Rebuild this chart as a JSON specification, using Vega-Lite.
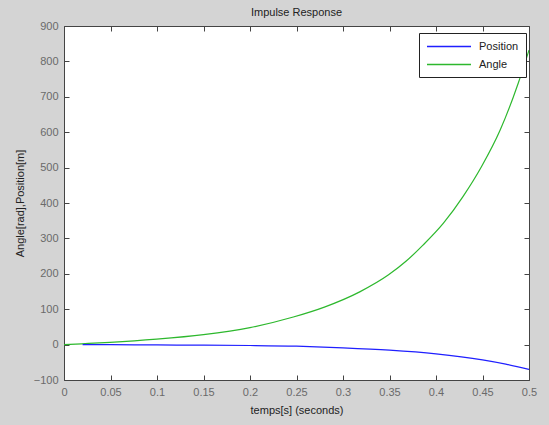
{
  "$schema": "https://vega.github.io/schema/vega-lite/v6.json",
  "width": 465,
  "height": 354,
  "autosize": "none",
  "padding": {"left": 64, "top": 26, "right": 20, "bottom": 45},
  "background": "#d4d4d4",
  "view": {"fill": "white", "stroke": "#444444", "strokeWidth": 1},
  "config": {"font": "Liberation Sans"},
  "title": {"text": "Impulse Response", "fontSize": 11, "fontWeight": "normal", "color": "#222222", "offset": 2, "font": "Liberation Sans"},
  "data": {"values": [
    {"t": 0, "value": 0, "series": "Angle"},
    {"t": 0.019, "value": 2.3, "series": "Angle"},
    {"t": 0.0495, "value": 6.2, "series": "Angle"},
    {"t": 0.0997, "value": 15.2, "series": "Angle"},
    {"t": 0.15, "value": 28, "series": "Angle"},
    {"t": 0.2, "value": 48, "series": "Angle"},
    {"t": 0.2466, "value": 78, "series": "Angle"},
    {"t": 0.28, "value": 106, "series": "Angle"},
    {"t": 0.318, "value": 149, "series": "Angle"},
    {"t": 0.349, "value": 197, "series": "Angle"},
    {"t": 0.368, "value": 236, "series": "Angle"},
    {"t": 0.386, "value": 281, "series": "Angle"},
    {"t": 0.408, "value": 343, "series": "Angle"},
    {"t": 0.429, "value": 418, "series": "Angle"},
    {"t": 0.449, "value": 503, "series": "Angle"},
    {"t": 0.469, "value": 606, "series": "Angle"},
    {"t": 0.4885, "value": 739, "series": "Angle"},
    {"t": 0.5, "value": 832, "series": "Angle"},
    {"t": 0.02, "value": 0, "series": "Position"},
    {"t": 0.05, "value": -0.3, "series": "Position"},
    {"t": 0.1, "value": -1, "series": "Position"},
    {"t": 0.15, "value": -1.5, "series": "Position"},
    {"t": 0.2, "value": -2.5, "series": "Position"},
    {"t": 0.25, "value": -4.5, "series": "Position"},
    {"t": 0.3, "value": -9, "series": "Position"},
    {"t": 0.35, "value": -15.5, "series": "Position"},
    {"t": 0.4, "value": -26, "series": "Position"},
    {"t": 0.45, "value": -43, "series": "Position"},
    {"t": 0.475, "value": -55, "series": "Position"},
    {"t": 0.5, "value": -70, "series": "Position"}
  ]},
  "layer": [
    {
      "mark": {"type": "line", "strokeWidth": 1.2, "interpolate": "monotone", "clip": true},
      "encoding": {
        "x": {"field": "t", "type": "quantitative",
          "scale": {"domain": [0, 0.5], "nice": false, "zero": false},
          "axis": {"values": [0, 0.05, 0.1, 0.15, 0.2, 0.25, 0.3, 0.35, 0.4, 0.45, 0.5],
            "format": "~g", "tickSize": -5, "tickColor": "#444444", "domain": false, "grid": false,
            "labelColor": "#6a6a6a", "labelFontSize": 11, "labelPadding": 11, "labelFlush": false, "labelOverlap": false,
            "title": "temps[s] (seconds)", "titleFontSize": 11, "titleFontWeight": "normal", "titleColor": "#222222", "titlePadding": 7}},
        "y": {"field": "value", "type": "quantitative",
          "scale": {"domain": [-100, 900], "nice": false, "zero": false},
          "axis": {"values": [-100, 0, 100, 200, 300, 400, 500, 600, 700, 800, 900],
            "tickSize": -5, "tickColor": "#444444", "domain": false, "grid": false,
            "labelColor": "#6a6a6a", "labelFontSize": 11, "labelPadding": 11, "labelFlush": false, "labelOverlap": false,
            "title": "Angle[rad],Position[m]", "titleFontSize": 11, "titleFontWeight": "normal", "titleColor": "#222222", "titlePadding": 8}},
        "color": {"field": "series", "type": "nominal",
          "scale": {"domain": ["Position", "Angle"], "range": ["#1f1fff", "#2db82d"]},
          "legend": {"orient": "none", "legendX": 355, "legendY": 7, "title": null,
            "symbolType": "M-1,0H7", "symbolSize": 121, "symbolStrokeWidth": 1.5, "labelOffset": 40,
            "labelFontSize": 11, "labelColor": "#222222", "strokeColor": "#222222", "fillColor": "white",
            "padding": 7, "rowPadding": 6}}
      }
    },
    {
      "mark": {"type": "line", "opacity": 0},
      "encoding": {
        "x": {"field": "t", "type": "quantitative",
          "axis": {"orient": "top", "values": [0, 0.05, 0.1, 0.15, 0.2, 0.25, 0.3, 0.35, 0.4, 0.45, 0.5],
            "labels": false, "tickSize": -5, "tickColor": "#444444", "domain": false, "grid": false, "title": null}},
        "y": {"field": "value", "type": "quantitative",
          "axis": {"orient": "right", "values": [-100, 0, 100, 200, 300, 400, 500, 600, 700, 800, 900],
            "labels": false, "tickSize": -5, "tickColor": "#444444", "domain": false, "grid": false, "title": null}},
        "detail": {"field": "series", "type": "nominal"}
      }
    }
  ],
  "resolve": {"axis": {"x": "independent", "y": "independent"}}
}
